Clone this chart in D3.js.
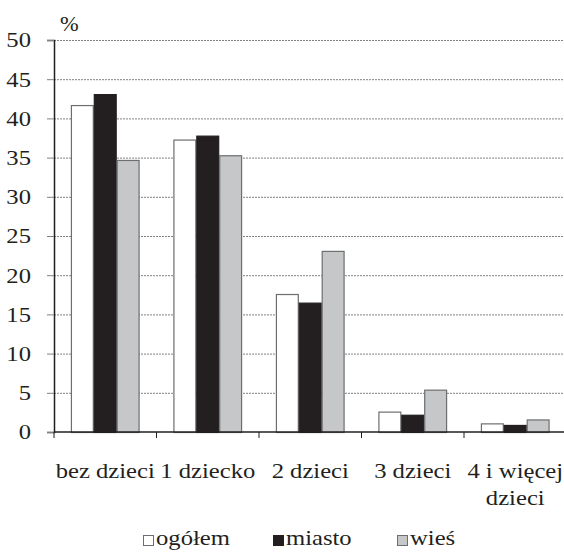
<!DOCTYPE html>
<html>
<head>
<meta charset="utf-8">
<script src="https://cdn.jsdelivr.net/npm/d3@7"></script>
<style>
  body { margin: 0; background: #fff; }
</style>
</head>
<body>
<script>
// Dane
const categories = [["bez dzieci"], ["1 dziecko"], ["2 dzieci"], ["3 dzieci"], ["4 i więcej", "dzieci"]];
const seriesNames = ["ogółem", "miasto", "wieś"];
const ogolem = [41.7, 37.3, 17.6, 2.6, 1.1];
const miasto = [43.1, 37.8, 16.5, 2.2, 0.9];
const wies = [34.7, 35.3, 23.1, 5.4, 1.6];
const yTicks = [0, 5, 10, 15, 20, 25, 30, 35, 40, 45, 50];

const values = [ogolem, miasto, wies];
const fills = ["#ffffff", "#231f20", "#c6c7c9"];
const strokes = ["#6d6e70", "#231f20", "#6d6e70"];

let width = 564;
let height = 552;
let plotLeft = 54, plotRight = 566.5, plotTop = 40, plotBottom = 432;
let stretch = 1.12;

let svg = d3.select("body").append("svg")
    .attr("width", width)
    .attr("height", height)
    .attr("font-family", "Liberation Serif, Times New Roman, serif")
    .attr("fill", "#231f20");

let keys = categories.map(c => c.join(" "));

let x0 = d3.scaleBand().domain(keys).range([plotLeft, plotRight]).padding(0);
let bw = x0.bandwidth();
let x1 = d3.scaleBand().domain(seriesNames).range([bw * 0.165, bw * 0.835]).padding(0);
let y = d3.scaleLinear().domain([0, 50]).range([plotBottom, plotTop]);

// Siatka
svg.append("g")
    .selectAll("line")
    .data(yTicks.filter(t => t > 0))
    .join("line")
    .attr("x1", plotLeft).attr("x2", plotRight)
    .attr("y1", d => y(d) + 0.5).attr("y2", d => y(d) + 0.5)
    .attr("stroke", "#808080")
    .attr("stroke-width", 1)
    .attr("stroke-dasharray", "2,1");

// Słupki
let groups = svg.append("g")
    .selectAll("g")
    .data(keys)
    .join("g")
    .attr("transform", d => `translate(${x0(d)},0)`);

groups.selectAll("rect")
    .data((d, i) => seriesNames.map((s, j) => ({ s: s, j: j, v: values[j][i] })))
    .join("rect")
    .attr("x", d => x1(d.s) + 0.5)
    .attr("y", d => y(d.v) + 0.5)
    .attr("width", x1.bandwidth() - 1)
    .attr("height", d => y(0) - y(d.v))
    .attr("fill", d => fills[d.j])
    .attr("stroke", d => strokes[d.j])
    .attr("stroke-width", 1.2);

// Oś Y
let yAxis = svg.append("g")
    .attr("transform", `translate(${plotLeft},0)`)
    .call(d3.axisLeft(y).tickValues(yTicks).tickSize(7).tickFormat(""));
yAxis.select(".domain").attr("stroke", "#231f20").attr("stroke-width", 1.5);
yAxis.selectAll(".tick line").attr("stroke", "#808080");

svg.append("g")
    .selectAll("text")
    .data(yTicks)
    .join("text")
    .attr("transform", d => `translate(31,${y(d)}) scale(${stretch},1)`)
    .attr("text-anchor", "end")
    .attr("dy", "0.34em")
    .attr("font-size", 22)
    .text(d => d);

svg.append("text")
    .attr("transform", `translate(60,31) scale(${stretch},1)`)
    .attr("font-size", 20)
    .text("%");

// Oś X
let xAxis = svg.append("g")
    .attr("transform", `translate(0,${plotBottom})`);
xAxis.append("line")
    .attr("x1", plotLeft).attr("x2", plotRight)
    .attr("stroke", "#231f20")
    .attr("stroke-width", 1.5);
xAxis.selectAll(".tk")
    .data(keys.map(k => x0(k)).concat([plotRight]))
    .join("line")
    .attr("class", "tk")
    .attr("x1", d => d).attr("x2", d => d)
    .attr("y1", 0).attr("y2", 6)
    .attr("stroke", "#231f20");

let labels = svg.append("g")
    .selectAll("text")
    .data(categories)
    .join("text")
    .attr("transform", (d, i) => `translate(${x0(keys[i]) + bw / 2},478) scale(${stretch},1)`)
    .attr("text-anchor", "middle")
    .attr("font-size", 22);
labels.selectAll("tspan")
    .data(d => d)
    .join("tspan")
    .attr("x", 0)
    .attr("dy", (d, i) => i == 0 ? 0 : 27)
    .text(d => d);

// Legenda
let legendX = [143, 273, 397];
let legend = svg.append("g")
    .selectAll("g")
    .data(seriesNames)
    .join("g")
    .attr("transform", (d, i) => `translate(${legendX[i]},0)`);
legend.append("rect")
    .attr("x", 0.5).attr("y", 535.5)
    .attr("width", 10).attr("height", 10)
    .attr("fill", (d, i) => fills[i])
    .attr("stroke", (d, i) => strokes[i]);
legend.append("text")
    .attr("transform", `translate(13,545) scale(${stretch},1)`)
    .attr("font-size", 22)
    .text(d => d);
</script>
</body>
</html>
